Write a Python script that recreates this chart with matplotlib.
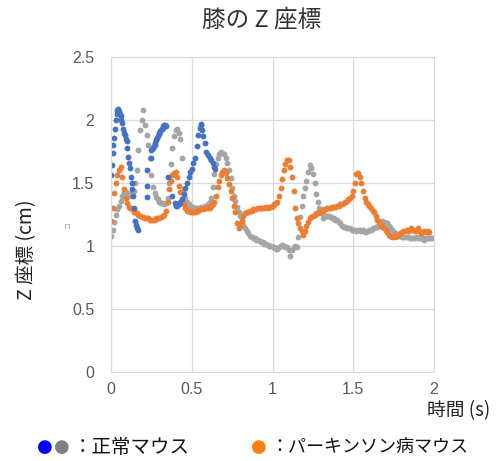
import numpy as np
import matplotlib
matplotlib.use('Agg')
import matplotlib.pyplot as plt

plt.rcParams['font.family'] = ['Noto Sans CJK JP', 'DejaVu Sans']

# 時間 (s) : 0.00 - 2.00, 0.01 s 刻み
t = np.round(np.arange(0, 2.001, 0.01), 2)

# パーキンソン病マウス (orange)
z_pd = [
    1.20, 1.30, 1.42, 1.50, 1.56, 1.60, 1.63, 1.55, 1.45, 1.38,
    1.34, 1.31, 1.30, 1.29, 1.27, 1.27, 1.26, 1.25, 1.24, 1.23,
    1.23, 1.22, 1.22, 1.22, 1.21, 1.21, 1.21, 1.21, 1.22, 1.22,
    1.22, 1.23, 1.24, 1.25, 1.28, 1.35, 1.45, 1.52, 1.56, 1.58,
    1.59, 1.55, 1.48, 1.43, 1.37, 1.33, 1.30, 1.28, 1.28, 1.27,
    1.27, 1.27, 1.27, 1.28, 1.28, 1.29, 1.29, 1.29, 1.30, 1.30,
    1.30, 1.30, 1.32, 1.33, 1.35, 1.40, 1.47, 1.52, 1.56, 1.59,
    1.60, 1.58, 1.54, 1.49, 1.44, 1.38, 1.32, 1.27, 1.18, 1.14,
    1.16, 1.20, 1.24, 1.26, 1.27, 1.27, 1.28, 1.28, 1.29, 1.29,
    1.29, 1.30, 1.30, 1.30, 1.30, 1.30, 1.31, 1.30, 1.31, 1.31,
    1.32, 1.33, 1.34, 1.35, 1.40, 1.46, 1.53, 1.60, 1.65, 1.68,
    1.68, 1.63, 1.55, 1.44, 1.30, 1.22, 1.18, 1.14, 1.12, 1.09,
    1.12, 1.16, 1.19, 1.22, 1.23, 1.24, 1.25, 1.26, 1.26, 1.27,
    1.28, 1.28, 1.29, 1.29, 1.30, 1.30, 1.30, 1.31, 1.31, 1.31,
    1.32, 1.32, 1.33, 1.33, 1.34, 1.35, 1.36, 1.37, 1.38, 1.40,
    1.44, 1.50, 1.57, 1.58, 1.55, 1.50, 1.44, 1.38, 1.35, 1.33,
    1.32, 1.30, 1.28, 1.27, 1.24, 1.21, 1.19, 1.17, 1.15, 1.14,
    1.13, 1.11, 1.09, 1.08, 1.07, 1.08, 1.07, 1.08, 1.09, 1.10,
    1.11, 1.12, 1.12, 1.13, 1.12, 1.13, 1.14, 1.13, 1.12, 1.13,
    1.14, 1.12, 1.10, 1.11, 1.12, 1.11, 1.12, 1.11, np.nan, np.nan,
    np.nan,
]

# 正常マウス (gray)
z_normal_gray = [
    1.08, 1.13, 1.19, 1.25, 1.29, 1.32, 1.36, 1.40, 1.43, 1.43,
    1.42, 1.41, 1.40, 1.41, 1.44, 1.50, 1.60, 1.76, 1.92, 2.00,
    2.08, 1.96, 1.88, 1.80, 1.70, 1.56, 1.47, 1.42, 1.39, 1.37,
    1.35, 1.34, 1.34, 1.33, 1.34, 1.38, 1.50, 1.65, 1.78, 1.87,
    1.92, 1.93, 1.90, 1.85, 1.70, 1.45, 1.38, 1.35, 1.33, 1.32,
    1.31, 1.31, 1.30, 1.30, 1.30, 1.30, 1.31, 1.31, 1.32, 1.32,
    1.33, 1.35, 1.38, 1.47, 1.57, 1.65, 1.70, 1.73, 1.75, 1.74,
    1.73, 1.70, 1.66, 1.60, 1.54, 1.46, 1.40, 1.36, 1.31, 1.27,
    1.24, 1.20, 1.17, 1.14, 1.12, 1.10, 1.08, 1.07, 1.06, 1.06,
    1.05, 1.05, 1.04, 1.03, 1.03, 1.02, 1.02, 1.01, 1.00, 1.00,
    0.99, 0.99, 0.98, 0.98, 0.99, 1.00, 1.01, 1.00, 0.99, 0.99,
    0.97, 0.92, 0.97, 0.99, 1.00, 0.99, 1.07, 1.23, 1.32, 1.40,
    1.46, 1.52, 1.59, 1.64, 1.62, 1.57, 1.50, 1.41, 1.35, 1.30,
    1.26, 1.22, 1.23, 1.24, 1.24, 1.24, 1.23, 1.22, 1.22, 1.21,
    1.21, 1.19, 1.18, 1.16, 1.15, 1.15, 1.14, 1.14, 1.14, 1.13,
    1.13, 1.13, 1.12, 1.13, 1.13, 1.12, 1.13, 1.11, 1.11, 1.12,
    1.13, 1.13, 1.14, 1.14, 1.15, 1.15, 1.17, 1.19, 1.20, 1.19,
    1.18, 1.18, 1.16, 1.15, 1.13, 1.11, 1.10, 1.09, 1.08, 1.08,
    1.07, 1.07, 1.07, 1.07, 1.07, 1.06, 1.06, 1.06, 1.06, 1.07,
    1.06, 1.06, 1.06, 1.06, 1.05, 1.06, 1.06, 1.06, 1.06, 1.06,
    1.06,
]

# 正常マウス (blue) - 記録のある区間のみ
t_blue = [
    0.000, 0.005, 0.010, 0.015, 0.020, 0.025, 0.030, 0.035, 0.040, 0.045,
    0.050, 0.055, 0.060, 0.065, 0.070, 0.075, 0.080, 0.085, 0.090, 0.097,
    0.102, 0.106, 0.112, 0.118, 0.123, 0.128, 0.132, 0.137, 0.143, 0.149,
    0.155, 0.162, 0.167,
    0.220, 0.222, 0.224, 0.245, 0.250, 0.255, 0.260, 0.265, 0.270, 0.275,
    0.280, 0.285, 0.290, 0.295, 0.300, 0.305, 0.310, 0.315, 0.320, 0.325,
    0.330, 0.335, 0.340, 0.355, 0.380, 0.395, 0.400, 0.405, 0.410, 0.415,
    0.420, 0.430, 0.440, 0.450, 0.460, 0.470, 0.480, 0.490, 0.500, 0.510,
    0.520, 0.530, 0.540, 0.550, 0.555, 0.560, 0.565, 0.570, 0.580, 0.590,
    0.600, 0.610, 0.620, 0.630, 0.640, 0.645,
]
z_normal_blue = [
    1.56, 1.64, 1.74, 1.80, 1.86, 1.93, 2.00, 2.05, 2.08, 2.09,
    2.07, 2.05, 2.03, 2.00, 1.98, 1.93, 1.90, 1.88, 1.85, 1.83,
    1.78, 1.71, 1.66, 1.62, 1.55, 1.50, 1.45, 1.40, 1.30, 1.20,
    1.17, 1.14, 1.13,
    1.39, 1.48, 1.60, 1.70, 1.76, 1.77, 1.78, 1.79, 1.80, 1.82,
    1.84, 1.86, 1.87, 1.89, 1.90, 1.91, 1.92, 1.93, 1.94, 1.95,
    1.96, 1.96, 1.95, 1.55, 1.40, 1.34, 1.33, 1.32, 1.32, 1.33,
    1.33, 1.35, 1.37, 1.41, 1.46, 1.50, 1.55, 1.59, 1.61, 1.66,
    1.70, 1.79, 1.88, 1.94, 1.97, 1.96, 1.92, 1.87, 1.82, 1.75,
    1.72, 1.70, 1.68, 1.66, 1.63, 1.61,
]

fig = plt.figure(figsize=(4.97, 4.61), dpi=100)
ax = fig.add_axes([0.2233, 0.193, 0.65, 0.6833])

ax.plot(t, z_normal_gray, 'o', ms=4.2, color='#A5A5A5', mec='none')
ax.plot(t, z_pd, 'o', ms=4.2, color='#ED7D31', mec='none')
ax.plot(t_blue, z_normal_blue, 'o', ms=4.2, color='#4472C4', mec='none')

ax.set_xlim(0, 2)
ax.set_ylim(0, 2.5)
ax.set_xticks([0, 0.5, 1, 1.5, 2])
ax.set_xticklabels(['0', '0.5', '1', '1.5', '2'])
ax.set_yticks([0, 0.5, 1, 1.5, 2, 2.5])
ax.set_yticklabels(['0', '0.5', '1', '1.5', '2', '2.5'])
ax.grid(True, color='#D9D9D9', lw=0.9)
ax.set_axisbelow(True)
for s in ax.spines.values():
    s.set_color('#D9D9D9')
ax.tick_params(length=0, labelsize=11.5, labelcolor='#595959', pad=7)
ax.tick_params(axis='y', pad=12)
for lab in ax.get_xticklabels() + ax.get_yticklabels():
    lab.set_family('Liberation Sans')

fig.text(262 / 497, 1 - 20 / 461, '膝の Z 座標', ha='center', va='center',
         fontsize=17, color='#333333')
fig.text(27 / 497, 1 - 250 / 461, 'Z 座標 (cm)', ha='center', va='center',
         rotation=90, fontsize=14, color='#222222')
fig.text(69 / 497, 1 - 224 / 461, 'コ', ha='center', va='center',
         rotation=90, fontsize=5, color='#999999')
fig.text(490 / 497, 1 - 411 / 461, '時間 (s)', ha='right', va='center',
         fontsize=13.5, color='#222222')

# 凡例（テキスト）
ly = 1 - 447 / 461
dot = dict(fontsize=13, va='center', family='DejaVu Sans')
fig.text(37 / 497, ly, '●', color='#0000FF', **dot)
fig.text(54 / 497, ly, '●', color='#808080', **dot)
fig.text(73 / 497, ly, '：正常マウス', color='#111111', fontsize=14, va='center')
fig.text(251 / 497, ly, '●', color='#FF7F0E', **dot)
fig.text(270 / 497, ly, '：パーキンソン病マウス', color='#111111', fontsize=13, va='center')

fig.savefig('out.png', dpi=100)
